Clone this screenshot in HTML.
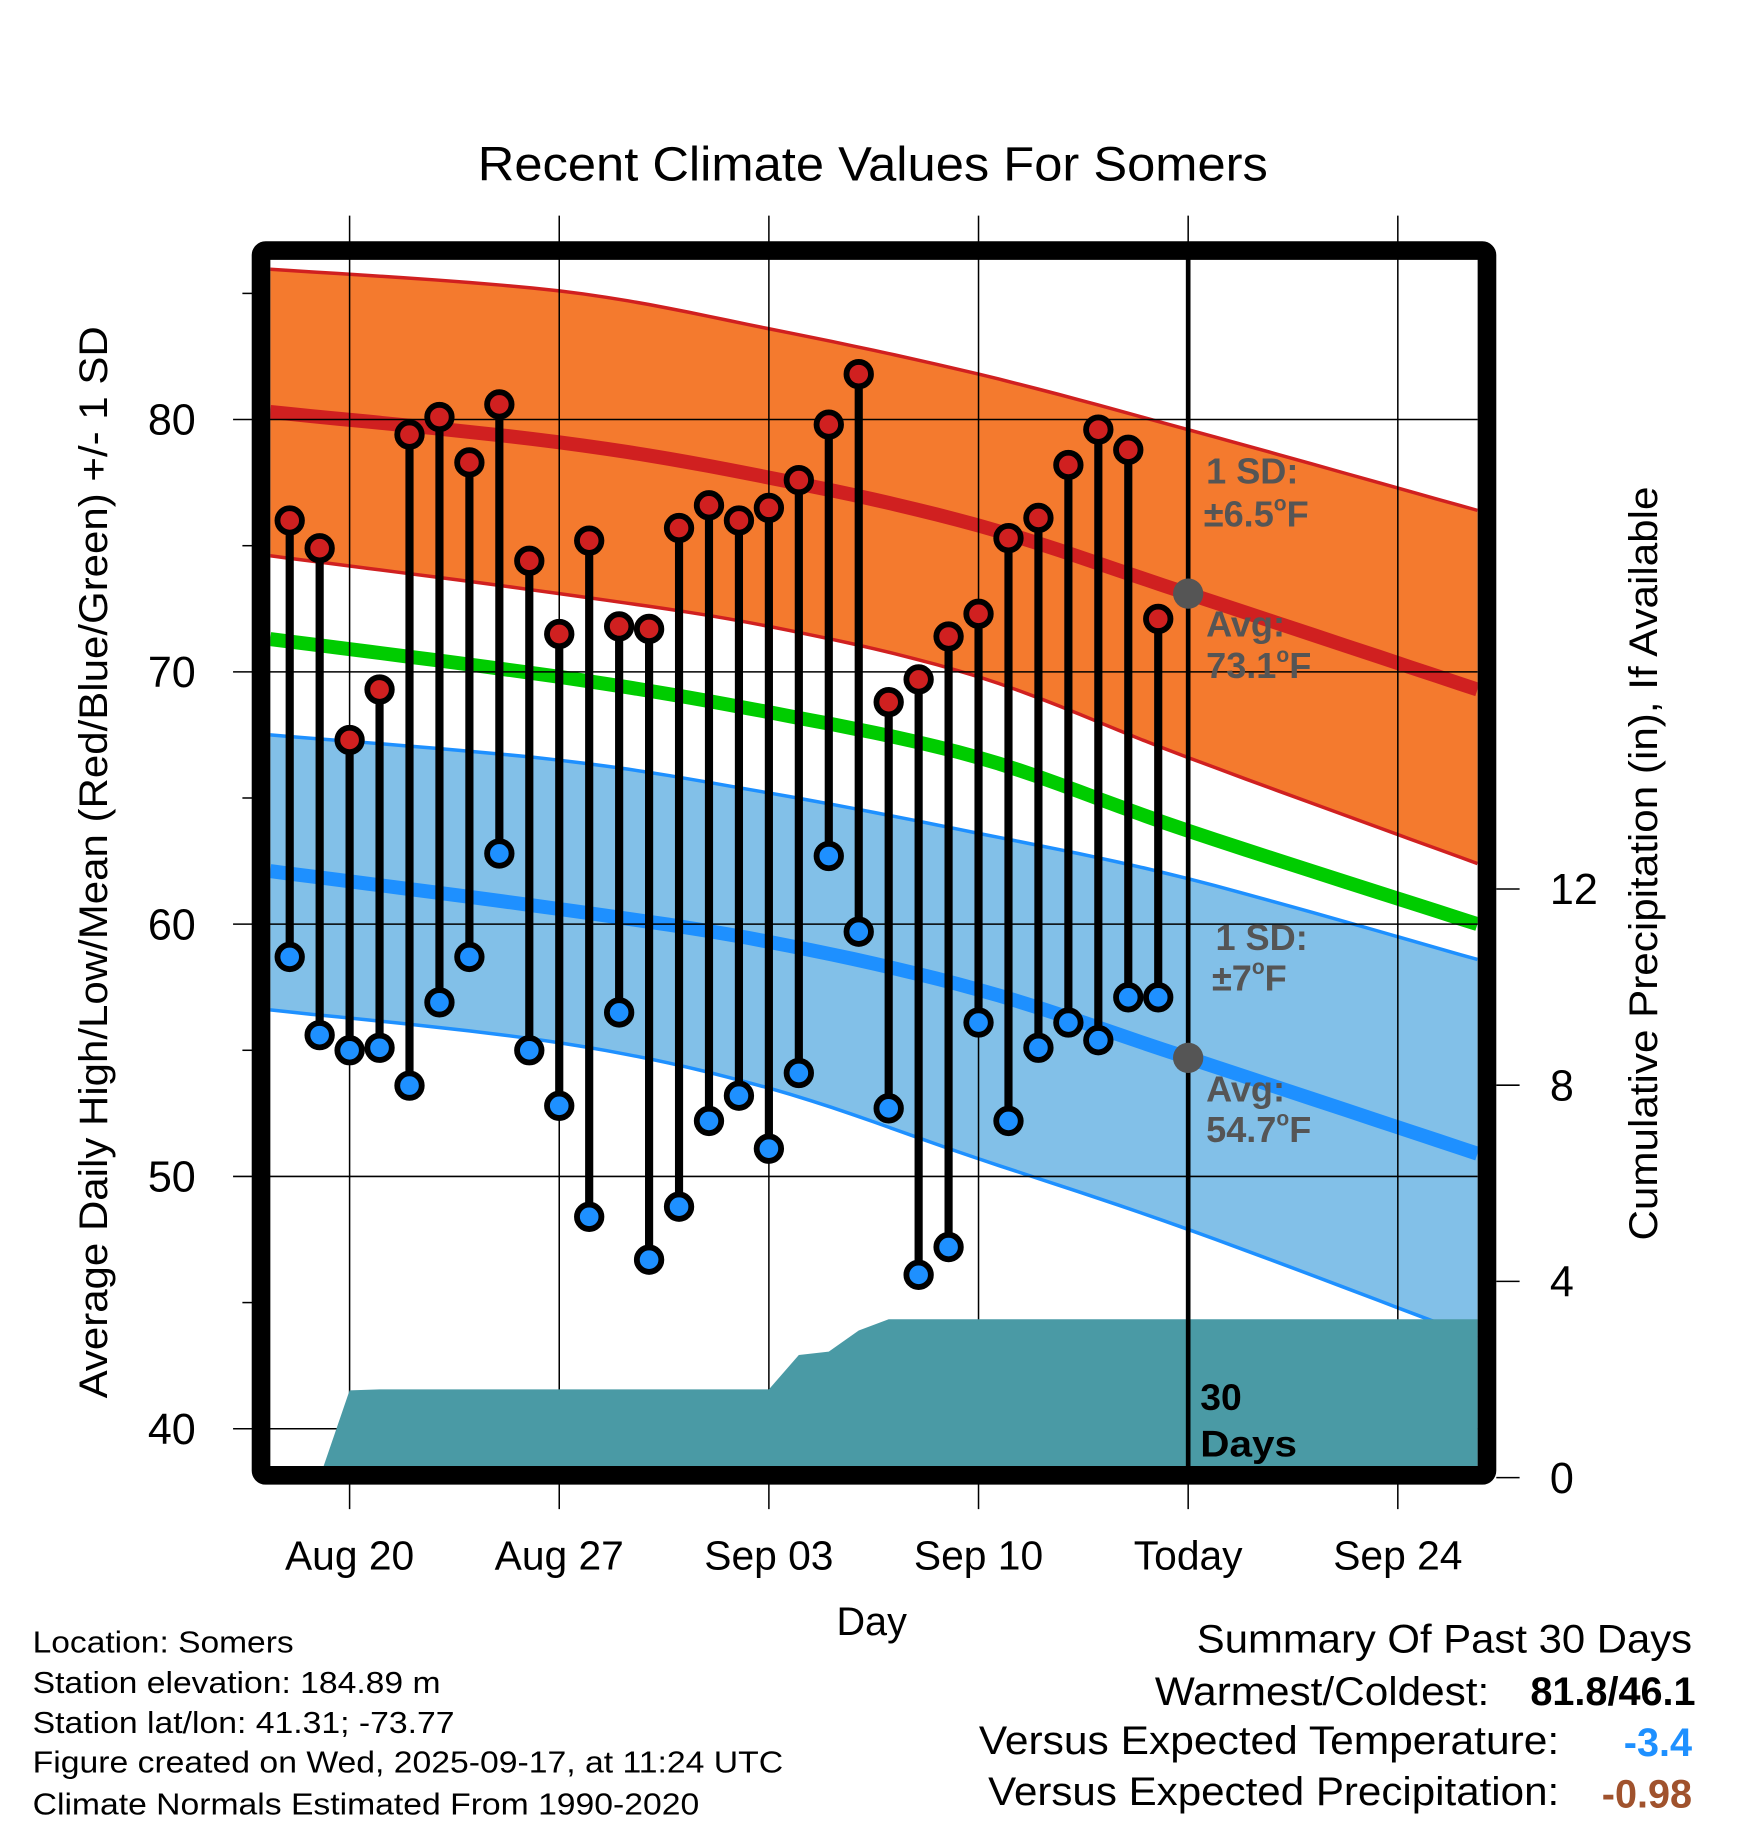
<!DOCTYPE html>
<html><head><meta charset="utf-8"><style>html,body{margin:0;padding:0;background:#fff}svg{display:block}text{font-family:"Liberation Sans",Arial,sans-serif}</style></head>
<body>
<svg id="chart" xmlns="http://www.w3.org/2000/svg" width="1748" height="1828" viewBox="0 0 1500 1568.6">
<rect width="1500" height="1568.6" fill="#fff"/>
<text x="749" y="155" font-size="41" text-anchor="middle" textLength="678" lengthAdjust="spacingAndGlyphs">Recent Climate Values For Somers</text>
<defs><clipPath id="plotclip"><rect x="232" y="223" width="1036" height="1035"/></clipPath></defs>
<g id="bands" clip-path="url(#plotclip)"></g>
<g id="grid"></g>
<g id="precip" clip-path="url(#plotclip)"></g>
<g id="marks"></g>
<g id="axes"></g>
<text x="748" y="1403" font-size="34" text-anchor="middle">Day</text>
<text transform="translate(92,740) rotate(-90)" font-size="34" text-anchor="middle" textLength="920" lengthAdjust="spacingAndGlyphs">Average Daily High/Low/Mean (Red/Blue/Green) +/- 1 SD</text>
<text transform="translate(1422,741) rotate(-90)" font-size="34" text-anchor="middle" textLength="647" lengthAdjust="spacingAndGlyphs">Cumulative Precipitation (in), If Available</text>
<g font-weight="bold" font-size="31" fill="#555">
<text x="1035" y="415">1 SD:</text><text x="1033" y="452">±6.5<tspan font-size="18" dy="-14">o</tspan><tspan dy="14">F</tspan></text>
<text x="1035" y="546">Avg:</text><text x="1035" y="582">73.1<tspan font-size="18" dy="-14">o</tspan><tspan dy="14">F</tspan></text>
<text x="1043" y="815">1 SD:</text><text x="1040" y="850">±7<tspan font-size="18" dy="-14">o</tspan><tspan dy="14">F</tspan></text>
<text x="1035" y="945">Avg:</text><text x="1035" y="980">54.7<tspan font-size="18" dy="-14">o</tspan><tspan dy="14">F</tspan></text>
</g>
<g font-weight="bold" font-size="32" fill="#000">
<text x="1030" y="1210">30</text><text x="1030" y="1250" textLength="83" lengthAdjust="spacingAndGlyphs">Days</text></g>
<g font-size="26">
<text x="28" y="1418" textLength="224" lengthAdjust="spacingAndGlyphs">Location: Somers</text>
<text x="28" y="1453" textLength="350" lengthAdjust="spacingAndGlyphs">Station elevation: 184.89 m</text>
<text x="28" y="1487" textLength="362" lengthAdjust="spacingAndGlyphs">Station lat/lon: 41.31; -73.77</text>
<text x="28" y="1521" textLength="644" lengthAdjust="spacingAndGlyphs">Figure created on Wed, 2025-09-17, at 11:24 UTC</text>
<text x="28" y="1557" textLength="572" lengthAdjust="spacingAndGlyphs">Climate Normals Estimated From 1990-2020</text>
</g>
<g font-size="34">
<text x="1027" y="1418" textLength="425" lengthAdjust="spacingAndGlyphs">Summary Of Past 30 Days</text>
<text x="991" y="1463" textLength="287" lengthAdjust="spacingAndGlyphs">Warmest/Coldest:</text>
<text x="1455" y="1463" font-weight="bold" text-anchor="end">81.8/46.1</text>
<text x="840" y="1505" textLength="498" lengthAdjust="spacingAndGlyphs">Versus Expected Temperature:</text>
<text x="1452" y="1507" font-weight="bold" fill="#1e90ff" text-anchor="end">-3.4</text>
<text x="848" y="1549" textLength="490" lengthAdjust="spacingAndGlyphs">Versus Expected Precipitation:</text>
<text x="1452" y="1551" font-weight="bold" fill="#a0522d" text-anchor="end">-0.98</text>
</g>
</svg>
<script>
const normDays=[-2.65,7,14,21,28,37.66];
const redUpper=[85.96,85.1,83.6,81.8,79.6,76.4];
const redMean=[80.3,79.1,77.7,75.8,73.1,69.3];
const redLower=[74.6,73.1,71.8,69.8,66.6,62.4];
const greenMean=[71.3,69.8,68.4,66.6,63.7,60.0];
const blueUpper=[67.5,66.5,65.2,63.6,61.8,58.6];
const blueMean=[62.1,60.6,59.3,57.4,54.7,50.9];
const blueLower=[56.6,55.3,53.5,50.7,47.9,43.6];
const obsDays=[-2,-1,0,1,2,3,4,5,6,7,8,9,10,11,12,13,14,15,16,17,18,19,20,21,22,23,24,25,26,27];
const highs=[76.0,74.9,67.3,69.3,79.4,80.1,78.3,80.6,74.4,71.5,75.2,71.8,71.7,75.7,76.6,76.0,76.5,77.6,79.8,81.8,68.8,69.7,71.4,72.3,75.3,76.1,78.2,79.6,78.8,72.1];
const lows=[58.7,55.6,55.0,55.1,53.6,56.9,58.7,62.8,55.0,52.8,48.4,56.5,46.7,48.8,52.2,53.2,51.1,54.1,62.7,59.7,52.7,46.1,47.2,56.1,52.2,55.1,56.1,55.4,57.1,57.1];
const precipDays=[-2,-1,0,1,7,14,15,16,17,18,38];
const precipVals=[0,0,1.78,1.8,1.8,1.8,2.5,2.57,3.0,3.23,3.23];
const xTickDays=[0,7,14,21,28,35];
const xTickLabels=["Aug 20","Aug 27","Sep 03","Sep 10","Today","Sep 24"];
const yTicks=[40,50,60,70,80];
const yMinor=[45,55,65,75,85];
const y2Ticks=[0,4,8,12];
const todayDay=28,todayRed=73.1,todayBlue=54.7;

const NS="http://www.w3.org/2000/svg";
const X=d=>300+d*25.7;
const Y=t=>360-(t-80)*21.65;
const Y2=p=>1268-p*42.1;
function mk(tag,attrs,parent){const e=document.createElementNS(NS,tag);for(const k in attrs)e.setAttribute(k,attrs[k]);parent.appendChild(e);return e;}
const bands=document.getElementById('bands'),grid=document.getElementById('grid'),precip=document.getElementById('precip'),marks=document.getElementById('marks'),axes=document.getElementById('axes');
function sample(arr){const P=normDays.map((d,i)=>[X(d),Y(arr[i])]);const out=[];
for(let i=0;i < P.length-1;i++){const p0=P[Math.max(i-1,0)],p1=P[i],p2=P[i+1],p3=P[Math.min(i+2,P.length-1)];
for(let k=0;k < 10;k++){const t=k/10,t2=t*t,t3=t2*t;
const f=(a,b,c,d)=>0.5*((2*b)+(-a+c)*t+(2*a-5*b+4*c-d)*t2+(-a+3*b-3*c+d)*t3);
out.push(f(p0[0],p1[0],p2[0],p3[0]).toFixed(1)+','+f(p0[1],p1[1],p2[1],p3[1]).toFixed(1));}}
out.push(P[P.length-1][0]+','+P[P.length-1][1]);return out;}
function band(up,lo,fill,name){const p=sample(up).concat(sample(lo).reverse());const e=mk('polygon',{points:p.join(' '),fill:fill},bands);

}
function line(arr,color,w,name){const e=mk('polyline',{points:sample(arr).join(' '),fill:'none',stroke:color,'stroke-width':w},bands);

}
band(redUpper,redLower,'#f47a2e','high-sd-band');
band(blueUpper,blueLower,'#82c0e8','low-sd-band');
line(redUpper,'#d02020',3,'high-upper-sd-line');
line(redLower,'#d02020',3,'high-lower-sd-line');
line(blueUpper,'#1e90ff',3,'low-upper-sd-line');
line(blueLower,'#1e90ff',3,'low-lower-sd-line');
line(redMean,'#d02020',12,'normal-high-line');
line(greenMean,'#00cc00',12,'normal-mean-line');
line(blueMean,'#1e90ff',12,'normal-low-line');
yTicks.forEach(t=>{const g=mk('line',{x1:200,x2:1268,y1:Y(t),y2:Y(t),stroke:'#000','stroke-width':1.3},grid);


const l=mk('text',{x:168,y:Y(t)+13,'font-size':37,'text-anchor':'end'},axes);l.textContent=t;

});
yMinor.forEach(t=>{const g=mk('line',{x1:208,x2:218,y1:Y(t),y2:Y(t),stroke:'#000','stroke-width':1.3},grid);

});
xTickDays.forEach((d,i)=>{const g=mk('line',{x1:X(d),x2:X(d),y1:185,y2:1295,stroke:'#000','stroke-width':1.3},grid);


const l=mk('text',{x:X(d),y:1347,'font-size':35,'text-anchor':'middle'},axes);l.textContent=xTickLabels[i];

});
y2Ticks.forEach(p=>{const g=mk('line',{x1:1284,x2:1304,y1:Y2(p),y2:Y2(p),stroke:'#000','stroke-width':1.3},axes);


const l=mk('text',{x:1330,y:Y2(p)+13,'font-size':37},axes);l.textContent=p;

});
{const p=precipDays.map((d,i)=>X(d)+','+Y2(precipVals[i]));p.push(X(precipDays[precipDays.length-1])+','+Y2(0));p.push(X(precipDays[0])+','+Y2(0));
const e=mk('polygon',{points:p.join(' '),fill:'#4a9aa5'},precip);

}
{const e=mk('line',{x1:X(todayDay),x2:X(todayDay),y1:215,y2:1266,stroke:'#000','stroke-width':4},marks);

}
[todayRed,todayBlue].forEach((v,i)=>{const c=mk('circle',{cx:X(todayDay),cy:Y(v),r:13,fill:'#555'},marks);

});
obsDays.forEach((d,i)=>{const x=X(d);
const s=mk('line',{x1:x,x2:x,y1:Y(highs[i]),y2:Y(lows[i]),stroke:'#000','stroke-width':7},marks);


const h=mk('circle',{cx:x,cy:Y(highs[i]),r:10.5,fill:'#d02020',stroke:'#000','stroke-width':5},marks);


const l=mk('circle',{cx:x,cy:Y(lows[i]),r:10.5,fill:'#1e90ff',stroke:'#000','stroke-width':5},marks);

});
{const f=mk('rect',{x:224,y:215,width:1052,height:1051,fill:'none',stroke:'#000','stroke-width':16,rx:4},axes);

}
</script>
</body></html>
